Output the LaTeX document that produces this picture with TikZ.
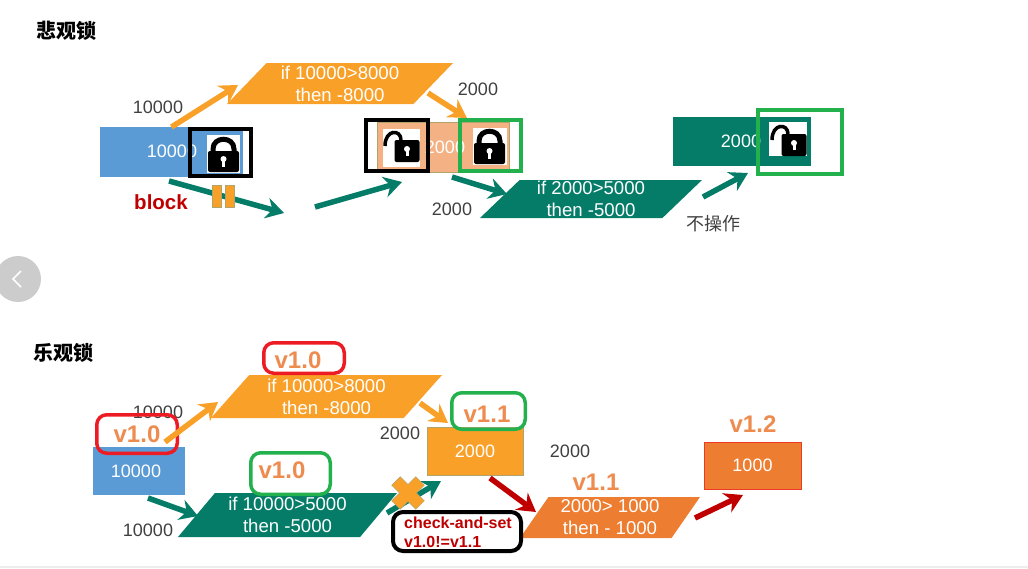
\documentclass[tikz,border=0pt]{standalone}
\usepackage{fontspec}
\setmainfont{Liberation Sans}
\newfontfamily\cjk{Noto Sans CJK SC}
\usetikzlibrary{positioning}
\usetikzlibrary{arrows.meta, shapes.geometric}
\definecolor{orangeA}{HTML}{F9A028}
\definecolor{blueA}{HTML}{5B9BD5}
\definecolor{tealA}{HTML}{047C68}
\definecolor{peachA}{HTML}{F4B183}
\definecolor{rustA}{HTML}{ED7D31}
\definecolor{redA}{HTML}{C00000}
\definecolor{frameR}{HTML}{ED1C24}
\definecolor{frameG}{HTML}{22B14C}
\definecolor{verA}{HTML}{EE8C50}
\definecolor{greyA}{HTML}{404040}
\definecolor{edgeA}{HTML}{B0A46C}
\tikzset{
  lockshut/.pic={
    \draw[line width=5pt] (-10.5,0) -- (-10.5,-5) .. controls (-10.5,-18) and (10.5,-18) .. (10.5,-5) -- (10.5,0);
    \fill[black, rounded corners=2pt] (-15.5,-3) rectangle (15.5,18);
    \fill[white] (0,5) circle (3pt);
    \fill[white] (-1.5,5) rectangle (1.5,12.5);
  },
  lockopen/.pic={
    \draw[line width=3.5pt] (-22,-5) .. controls (-22,-22) and (-6,-22) .. (-6,-11);
    \fill[black, rounded corners=2pt] (-12.5,-11) rectangle (12.5,11);
    \fill[white] (0,-2) circle (3pt);
    \fill[white] (-1.5,-2) rectangle (1.5,5);
  }
}
\begin{document}
\begin{tikzpicture}[x=1pt, y=-1pt,
  box/.style = {rectangle, inner sep=0pt, outer sep=0pt, text=white, font=\fontsize{18}{22}\selectfont},
  para/.style = {trapezium, trapezium stretches body, inner sep=0pt, outer sep=0pt, align=center, text=white, font=\fontsize{18.6}{22}\selectfont},
  num/.style = {text=greyA, inner sep=0pt, font=\fontsize{18}{22}\selectfont},
  ver/.style = {text=verA, inner sep=0pt, font=\fontsize{24}{28}\selectfont\bfseries},
  title/.style = {inner sep=0pt, font=\fontsize{20}{24}\selectfont\cjk\bfseries},
  lockbg/.style = {fill=white, inner sep=0pt, outer sep=0pt},
  lockframe/.style = {draw, line width=4pt, inner sep=0pt, outer sep=0pt},
  verframe/.style = {draw, line width=3.5pt, rounded corners=10pt, inner sep=0pt, outer sep=0pt},
  flow/.style = {line width=5.5pt, -{Stealth[length=18pt, width=21pt, inset=6pt]}}]
\useasboundingbox (0,0) rectangle (1028,568);

\node[title] (t1) at (66,31) {悲观锁};
\node[title] (t2) at (63,353) {乐观锁};

\node[box, fill=blueA, minimum width=143pt, minimum height=50pt] (a1) at (171.5,152) {};
\node[box] (a1t) at (172,151) {10000};
\node[lockbg, minimum width=33pt, minimum height=38pt] (a1k) at (223.5,154) {};
\pic at (a1k.center) {lockshut};
\node[lockframe, minimum width=61pt, minimum height=47pt] (a1f) at (220.5,152.5) {};
\node[num] (n1) at (158,107) {10000};

\node[para, fill=orangeA, trapezium left angle=42, trapezium right angle=138, minimum width=226pt, minimum height=41pt] (p1) at (340,83.5) {if 10000>8000\\then -8000};
\node[num] (n2) at (478,89) {2000};

\node[box, fill=peachA, draw=edgeA, minimum width=132pt, minimum height=50pt] (b1) at (443,147) {};
\node[box] (b1t) at (445,147) {2000};
\node[lockbg, minimum width=37pt, minimum height=38pt] (b1k) at (401.5,148) {};
\pic at (407,151) {lockopen};
\node[lockbg, minimum width=34pt, minimum height=37pt] (b2k) at (490,146.5) {};
\pic at (489.5,146) {lockshut};
\node[lockframe, minimum width=62pt, minimum height=51pt] (b1f) at (397,145.5) {};
\node[lockframe, draw=frameG, minimum width=61pt, minimum height=51pt] (b2f) at (490.5,145.5) {};

\node[para, fill=tealA, trapezium left angle=42, trapezium right angle=138, minimum width=222pt, minimum height=38pt] (p2) at (591,199) {if 2000>5000\\then -5000};
\node[num] (n3) at (452,209) {2000};

\node[box, fill=tealA, minimum width=138pt, minimum height=49pt] (c1) at (742,141.5) {};
\node[box] (c1t) at (741,141) {2000};
\node[lockbg, minimum width=38pt, minimum height=34pt] (c1k) at (788,139) {};
\pic at (794,145) {lockopen};
\node[lockframe, draw=frameG, minimum width=84pt, minimum height=64pt] (c1f) at (800,142) {};
\node[text=greyA, inner sep=0pt, font=\fontsize{18}{22}\selectfont\cjk] (n4) at (713,224) {不操作};

\node[text=redA, inner sep=0pt, font=\fontsize{20.5}{24}\selectfont\bfseries] (bl) at (161,202) {block};

\coordinate (u1) at (238,85);
\coordinate (u2) at (428,93);
\coordinate (u3) at (467,118);
\coordinate (u4) at (169,181);
\coordinate (u5) at (284,213);
\coordinate (u6) at (315,207);
\coordinate (u7) at (402,182);
\coordinate (u8) at (452,177);
\coordinate (u9) at (507,194);
\coordinate (u10) at (703,197);
\coordinate (u11) at (748,173);
\path (a1.north) edge [flow, orangeA] (u1);
\path (u2) edge [flow, orangeA] (u3);
\path (u4) edge [flow, tealA] (u5);
\path (u6) edge [flow, tealA] (u7);
\path (u8) edge [flow, tealA] (u9);
\path (u10) edge [flow, tealA] (u11);
\node[box, fill=orangeA, draw=edgeA, minimum width=9pt, minimum height=22pt] (h1) at (216.5,196) {};
\node[box, fill=orangeA, draw=edgeA, minimum width=9pt, minimum height=22pt] (h2) at (229.5,196) {};

\fill[black!20] (18,279) circle (23pt);
\draw[white, line width=1.5pt] (21,271) -- (13,279) -- (21,287);

\node[num] (n5) at (158,412) {10000};
\node[box, fill=blueA, minimum width=92pt, minimum height=48pt] (d1) at (139,471) {};
\node[box] (d1t) at (136,471) {10000};
\node[ver] (v1) at (137,434) {v1.0};
\node[verframe, draw=frameR, minimum width=80.5pt, minimum height=38.5pt] (v1f) at (137,434) {};

\node[para, fill=orangeA, trapezium left angle=43, trapezium right angle=137, minimum width=231pt, minimum height=43pt] (p3) at (326.5,396.5) {if 10000>8000\\then -8000};
\node[ver] (v2) at (298,360) {v1.0};
\node[verframe, draw=frameR, minimum width=80.5pt, minimum height=30.5pt] (v2f) at (304,358) {};

\node[para, fill=tealA, trapezium left angle=44, trapezium right angle=136, minimum width=219pt, minimum height=44pt] (p4) at (287.5,515) {if 10000>5000\\then -5000};
\node[ver] (v3) at (282,470) {v1.0};
\node[verframe, draw=frameG, minimum width=79.5pt, minimum height=41.5pt] (v3f) at (290.5,473.5) {};
\node[num] (n6) at (148,530) {10000};

\node[box, fill=orangeA, draw=edgeA, minimum width=96pt, minimum height=48pt] (e1) at (475,451) {2000};
\node[ver] (v4) at (487,414) {v1.1};
\node[verframe, draw=frameG, minimum width=73.5pt, minimum height=36.5pt] (v4f) at (488.5,411) {};
\node[num] (n7) at (400,433) {2000};
\node[num] (n8) at (570,451) {2000};

\node[para, fill=rustA, trapezium left angle=51, trapezium right angle=129, minimum width=180pt, minimum height=41pt] (p5) at (610,517.5) {2000> 1000\\then - 1000};
\node[ver] (v5) at (596,482) {v1.1};
\node[box, fill=rustA, draw=frameR!70!rustA, minimum width=97pt, minimum height=47pt] (f1) at (752.5,465.5) {1000};
\node[ver] (v6) at (753,424) {v1.2};

\coordinate (w1) at (165,442);
\coordinate (w2) at (218,402);
\coordinate (w3) at (420,403);
\coordinate (w4) at (448,423);
\coordinate (w5) at (148,498);
\coordinate (w6) at (198,516);
\coordinate (w7) at (387,513);
\coordinate (w8) at (441,481);
\coordinate (w9) at (490,478);
\coordinate (w10) at (536,512);
\coordinate (w11) at (695,518);
\coordinate (w12) at (743,495);
\path (w1) edge [flow, orangeA] (w2);
\path (w3) edge [flow, orangeA] (w4);
\path (w5) edge [flow, tealA] (w6);
\path (w7) edge [flow, tealA] (w8);
\path (w9) edge [flow, redA] (w10);
\path (w11) edge [flow, redA] (w12);

\fill[orangeA, draw=edgeA, shift={(408,493)}, rotate=45] (-6,-17) -- (6,-17) -- (6,-6) -- (17,-6) -- (17,6) -- (6,6) -- (6,17) -- (-6,17) -- (-6,6) -- (-17,6) -- (-17,-6) -- (-6,-6) -- cycle;

\node[verframe, draw=black, fill=white, line width=4pt, minimum width=128pt, minimum height=39pt] (g1) at (457,531.5) {};
\node[text=redA, inner sep=0pt, align=left, font=\fontsize{16}{19}\selectfont\bfseries] (g1t) at (458,532) {check-and-set\\v1.0!=v1.1};

\fill[black!7] (0,565.5) rectangle (1028,568);
\end{tikzpicture}
\end{document}
